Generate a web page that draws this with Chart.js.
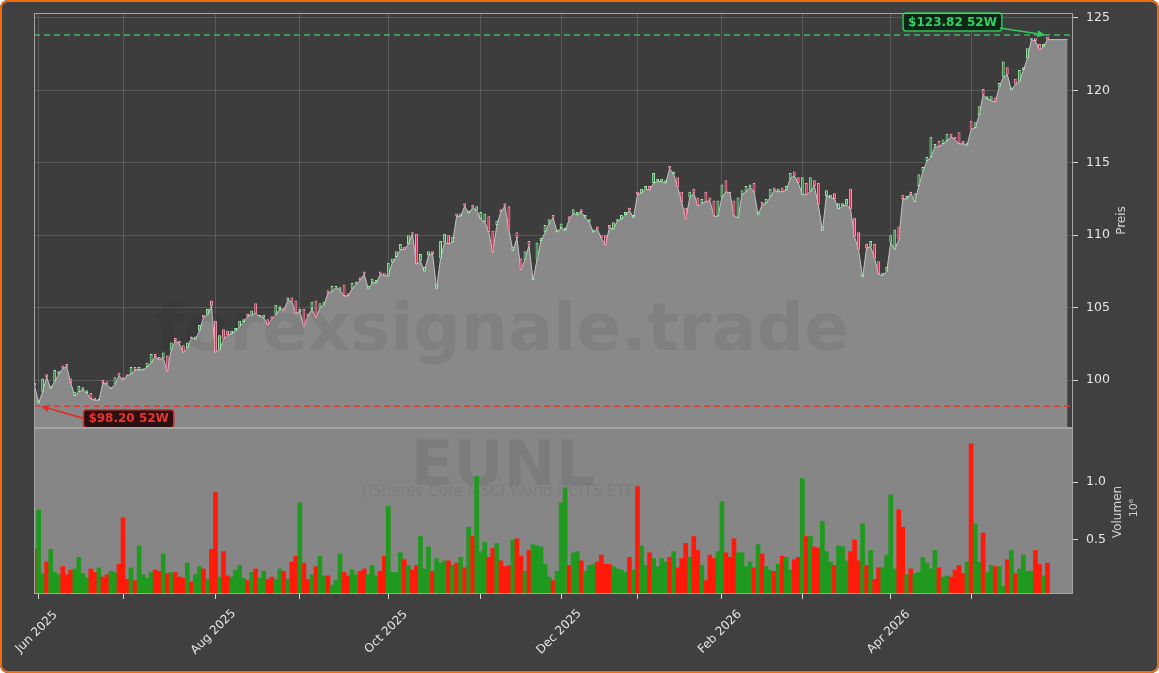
<!DOCTYPE html>
<html>
<head>
<meta charset="utf-8">
<script src="https://cdn.jsdelivr.net/npm/chart.js@4.4.1/dist/chart.umd.min.js"></script>
<style>
  html, body { margin: 0; padding: 0; background: #ffffff; }
  #wrap { position: relative; width: 1159px; height: 673px; overflow: hidden; background: #404040; border-radius: 8px; }
  #c1 { position: absolute; left: 0; top: 0; }
  #c2 { position: absolute; left: 0; top: 428px; }
  #frame { position: absolute; left: 0; top: 0; width: 1159px; height: 673px; box-sizing: border-box;
           border: 2px solid #f26a10; border-radius: 8px; pointer-events: none; }
</style>
</head>
<body>
<div id="wrap">
  <canvas id="c1" width="1159" height="430"></canvas>
  <canvas id="c2" width="1159" height="245"></canvas>
  <div id="frame"></div>
</div>
<script>
// trading days from 30 May 2025 (index 0) to 29 May 2026 (index 252)
const closes = [
  99.6, 98.6, 100.1, 100.2, 99.6, 100.7, 100.6, 100.8, 100.9, 99.8,
  99.2, 99.6, 99.5, 99.3, 98.7, 98.6, 98.7, 99.8, 99.7, 99.5,
  100.2, 100.3, 100.0, 100.3, 100.9, 100.7, 100.9, 100.8, 101.2, 101.8,
  101.6, 101.4, 101.9, 100.6, 102.6, 102.7, 102.5, 101.9, 102.6, 102.9,
  103.0, 103.8, 104.3, 104.9, 105.1, 101.9, 103.1, 102.8, 103.1, 103.4,
  103.6, 104.1, 104.2, 104.4, 104.8, 104.6, 104.5, 104.5, 103.8, 104.2,
  105.2, 105.1, 104.8, 105.7, 105.4, 104.6, 104.9, 103.7, 104.4, 105.4,
  104.3, 105.3, 105.4, 106.0, 106.5, 106.5, 106.4, 105.8, 105.8, 106.7,
  106.8, 106.9, 107.3, 106.5, 107.0, 106.9, 107.3, 107.2, 108.1, 108.4,
  108.9, 109.4, 109.0, 110.0, 110.1, 108.0, 108.7, 107.8, 108.9, 108.7,
  106.6, 109.6, 110.1, 109.4, 109.9, 111.3, 111.5, 112.0, 111.7, 111.9,
  112.0, 111.6, 111.5, 110.2, 108.8, 111.0, 111.6, 112.0, 110.4, 109.2,
  109.8, 107.6, 108.9, 109.3, 107.1, 109.5, 109.8, 110.7, 111.1, 111.2,
  110.4, 110.8, 110.5, 111.1, 111.8, 111.6, 111.6, 111.4, 111.1, 110.4,
  110.4, 109.8, 109.3, 110.5, 110.9, 111.1, 111.4, 111.6, 111.7, 111.4,
  112.8, 113.2, 113.4, 113.1, 114.3, 113.9, 113.9, 113.8, 114.6, 114.4,
  113.3, 112.3, 111.1, 113.0, 112.9, 112.0, 112.5, 112.3, 112.4, 111.3,
  112.4, 113.5, 113.0, 112.9, 111.3, 112.6, 113.1, 113.4, 113.5, 113.0,
  111.6, 112.1, 112.5, 113.2, 113.1, 113.2, 113.0, 113.4, 114.3, 114.1,
  113.6, 114.0, 112.8, 114.0, 113.4, 112.1, 110.6, 113.1, 112.8, 112.5,
  112.2, 112.2, 112.5, 111.8, 109.9, 109.0, 107.3, 109.1, 109.6, 108.4,
  107.3, 107.4, 107.8, 110.0, 110.4, 109.7, 112.5, 112.7, 112.9, 112.9,
  114.2, 114.7, 115.4, 116.8, 116.3, 116.1, 116.6, 117.0, 116.8, 116.6,
  116.3, 116.3, 116.4, 117.3, 117.8, 118.9, 119.7, 119.6, 119.6, 119.2,
  120.5, 122.0, 121.1, 120.2, 120.4, 121.4, 121.6, 122.9, 123.6, 123.4,
  122.8, 123.2, 123.5
];
const opens = [
  99.8, 98.4, 99.2, 100.4, 99.4, 99.9, 100.4, 101.0, 101.1, 100.1,
  98.9, 99.2, 99.3, 99.1, 99.1, 98.8, 98.6, 100.0, 99.9, 99.4,
  99.7, 100.5, 100.2, 100.4, 100.4, 100.9, 100.7, 100.7, 100.9, 101.2,
  101.8, 101.6, 101.5, 101.7, 102.1, 102.9, 102.7, 102.4, 102.2, 103.0,
  102.8, 103.4, 104.5, 104.5, 105.5, 104.1, 102.1, 103.5, 103.4, 103.2,
  103.4, 103.7, 104.0, 104.6, 104.5, 105.3, 104.4, 104.3, 104.2, 104.4,
  104.5, 104.9, 105.0, 105.5, 105.7, 105.5, 104.7, 104.9, 104.6, 104.9,
  105.5, 105.0, 105.2, 106.2, 106.1, 106.4, 106.2, 106.6, 106.0, 106.3,
  106.6, 107.1, 107.5, 106.3, 106.7, 106.7, 107.5, 107.4, 107.2, 108.1,
  108.5, 109.0, 109.2, 109.4, 110.2, 110.1, 108.2, 107.5, 108.6, 108.9,
  106.3, 108.4, 109.5, 110.0, 109.5, 111.5, 111.3, 112.2, 111.5, 112.1,
  111.7, 111.1, 110.9, 111.3, 110.3, 110.7, 111.8, 112.2, 112.0, 108.9,
  110.2, 108.4, 108.3, 109.6, 106.9, 108.3, 109.6, 110.2, 110.8, 111.4,
  110.2, 110.5, 110.3, 111.3, 111.5, 111.4, 111.8, 111.2, 110.9, 110.2,
  110.6, 110.0, 110.0, 110.7, 110.4, 111.0, 111.1, 111.4, 111.9, 111.2,
  113.0, 112.9, 113.2, 113.4, 113.6, 113.7, 113.7, 113.6, 114.8, 114.2,
  114.0, 113.0, 111.9, 112.6, 113.2, 112.6, 112.2, 113.0, 112.6, 112.4,
  111.3, 112.6, 113.8, 113.0, 112.4, 111.2, 112.8, 113.0, 113.3, 113.6,
  111.4, 112.3, 112.2, 112.6, 113.3, 113.0, 113.3, 113.1, 113.9, 114.4,
  114.0, 112.8, 113.6, 113.0, 113.8, 113.6, 110.3, 112.7, 112.6, 112.9,
  111.8, 112.0, 112.1, 113.2, 111.2, 110.2, 107.1, 109.4, 109.2, 109.4,
  108.2, 107.2, 107.5, 109.5, 109.0, 110.6, 112.8, 112.5, 113.0, 112.3,
  113.4, 114.4, 115.1, 115.4, 116.1, 116.5, 116.3, 116.5, 117.0, 116.8,
  117.1, 116.5, 116.2, 117.9, 117.4, 118.3, 120.1, 119.4, 119.3, 119.5,
  120.2, 120.9, 121.6, 120.0, 120.8, 120.6, 121.4, 122.2, 123.5, 123.6,
  123.2, 123.0, 123.7
];
// volume in millions
const volumes = [
  0.42, 0.76, 0.21, 0.31, 0.42, 0.22, 0.20, 0.27, 0.20, 0.24,
  0.25, 0.35, 0.21, 0.17, 0.25, 0.22, 0.26, 0.18, 0.20, 0.23,
  0.22, 0.29, 0.69, 0.16, 0.26, 0.15, 0.45, 0.20, 0.17, 0.22,
  0.24, 0.23, 0.38, 0.21, 0.22, 0.22, 0.18, 0.17, 0.30, 0.14,
  0.20, 0.27, 0.25, 0.16, 0.42, 0.91, 0.18, 0.40, 0.19, 0.18,
  0.24, 0.28, 0.17, 0.15, 0.22, 0.25, 0.17, 0.23, 0.16, 0.18,
  0.16, 0.25, 0.23, 0.16, 0.31, 0.36, 0.82, 0.30, 0.16, 0.20,
  0.27, 0.36, 0.19, 0.19, 0.11, 0.15, 0.38, 0.22, 0.19, 0.24,
  0.20, 0.23, 0.25, 0.20, 0.28, 0.19, 0.23, 0.36, 0.79, 0.22,
  0.22, 0.39, 0.33, 0.28, 0.24, 0.28, 0.53, 0.25, 0.44, 0.23,
  0.34, 0.30, 0.32, 0.32, 0.28, 0.30, 0.35, 0.26, 0.61, 0.53,
  1.05, 0.40, 0.48, 0.35, 0.43, 0.47, 0.32, 0.27, 0.28, 0.50,
  0.51, 0.36, 0.23, 0.41, 0.46, 0.45, 0.44, 0.29, 0.18, 0.15,
  0.23, 0.82, 0.95, 0.28, 0.39, 0.40, 0.32, 0.23, 0.28, 0.29,
  0.31, 0.37, 0.29, 0.29, 0.27, 0.25, 0.24, 0.22, 0.35, 0.24,
  0.96, 0.45, 0.28, 0.39, 0.34, 0.27, 0.34, 0.31, 0.35, 0.40,
  0.26, 0.34, 0.47, 0.35, 0.53, 0.41, 0.28, 0.15, 0.37, 0.34,
  0.40, 0.83, 0.39, 0.35, 0.51, 0.39, 0.39, 0.27, 0.31, 0.26,
  0.46, 0.38, 0.27, 0.24, 0.23, 0.29, 0.36, 0.35, 0.24, 0.33,
  0.35, 1.03, 0.53, 0.53, 0.44, 0.43, 0.66, 0.40, 0.31, 0.28,
  0.45, 0.44, 0.32, 0.40, 0.50, 0.32, 0.64, 0.28, 0.41, 0.16,
  0.26, 0.26, 0.37, 0.89, 0.25, 0.76, 0.61, 0.20, 0.25, 0.21,
  0.22, 0.35, 0.30, 0.25, 0.41, 0.26, 0.18, 0.19, 0.18, 0.24,
  0.28, 0.21, 0.31, 1.33, 0.64, 0.31, 0.56, 0.22, 0.28, 0.27,
  0.27, 0.10, 0.33, 0.41, 0.21, 0.25, 0.37, 0.23, 0.23, 0.41,
  0.29, 0.19, 0.30
];
const priceTicks = [100, 105, 110, 115, 120, 125];
const volumeTicks = [0.5, 1.0];
const monthTicks = [1, 22, 45, 66, 88, 111, 131, 150, 171, 191, 213, 233];
const monthLabels = ['Jun 2025', '', 'Aug 2025', '', 'Oct 2025', '', 'Dec 2025', '', 'Feb 2026', '', 'Apr 2026', ''];
const high52 = 123.82, high52Index = 252;
const low52 = 98.20, low52Index = 1;
const areaEndIndex = 257;

const X_MIN = -0.15, X_MAX = 258.35;
const GREEN_BODY = '#3c8f4c', GREEN_EDGE = '#9ef0aa';
const RED_BODY = '#e0305a', RED_EDGE = '#ff9db5';

Chart.defaults.font.family = '"DejaVu Sans", sans-serif';
Chart.defaults.color = '#e6e6e6';

const isUp = closes.map((c, i) => c >= opens[i]);
const candleData = closes.map((c, i) => ({ x: i, y: [opens[i], c] }));
// shaded area follows the lower edge of each candle body
const areaData = closes.map((c, i) => ({ x: i, y: Math.min(c, opens[i]) }));
areaData.push({ x: areaEndIndex, y: areaData[areaData.length - 1].y });
const volumeData = volumes.map((v, i) => ({ x: i, y: v }));

function monthTickList(scale) {
  scale.ticks = monthTicks.map(v => ({ value: v }));
}

function drawFrame(chart) {
  const { ctx, chartArea: a } = chart;
  ctx.save();
  ctx.strokeStyle = '#a4a4a4';
  ctx.lineWidth = 1;
  ctx.strokeRect(Math.round(a.left) + 0.5, Math.round(a.top) + 0.5,
                 Math.round(a.right - a.left) - 1, Math.round(a.bottom - a.top) - 1);
  ctx.restore();
}

function fillPanel(chart, color) {
  const { ctx, chartArea: a } = chart;
  ctx.save();
  ctx.fillStyle = color;
  ctx.fillRect(a.left, a.top, a.right - a.left, a.bottom - a.top);
  ctx.restore();
}

function verticalText(ctx, text, x, y, font, color) {
  ctx.save();
  ctx.translate(x, y);
  ctx.rotate(-Math.PI / 2);
  ctx.font = font;
  ctx.fillStyle = color;
  ctx.textAlign = 'center';
  ctx.textBaseline = 'middle';
  ctx.fillText(text, 0, 0);
  ctx.restore();
}

function drawTag(ctx, text, cx, cy, fill, stroke, color) {
  ctx.save();
  ctx.font = 'bold 12px "DejaVu Sans"';
  const w = ctx.measureText(text).width + 10, h = 18;
  const x = cx - w / 2, y = cy - h / 2, r = 3;
  ctx.beginPath();
  ctx.moveTo(x + r, y);
  ctx.lineTo(x + w - r, y);
  ctx.quadraticCurveTo(x + w, y, x + w, y + r);
  ctx.lineTo(x + w, y + h - r);
  ctx.quadraticCurveTo(x + w, y + h, x + w - r, y + h);
  ctx.lineTo(x + r, y + h);
  ctx.quadraticCurveTo(x, y + h, x, y + h - r);
  ctx.lineTo(x, y + r);
  ctx.quadraticCurveTo(x, y, x + r, y);
  ctx.closePath();
  ctx.fillStyle = fill;
  ctx.fill();
  ctx.lineWidth = 1.5;
  ctx.strokeStyle = stroke;
  ctx.stroke();
  ctx.fillStyle = color;
  ctx.textAlign = 'center';
  ctx.textBaseline = 'middle';
  ctx.fillText(text, cx, cy + 0.5);
  ctx.restore();
  return w;
}

function drawArrow(ctx, x1, y1, x2, y2, color) {
  const ang = Math.atan2(y2 - y1, x2 - x1);
  const hl = 8, hw = 3.5;
  ctx.save();
  ctx.strokeStyle = color;
  ctx.fillStyle = color;
  ctx.lineWidth = 1.6;
  ctx.beginPath();
  ctx.moveTo(x1, y1);
  ctx.lineTo(x2 - hl * Math.cos(ang), y2 - hl * Math.sin(ang));
  ctx.stroke();
  ctx.beginPath();
  ctx.moveTo(x2, y2);
  ctx.lineTo(x2 - hl * Math.cos(ang) + hw * Math.sin(ang), y2 - hl * Math.sin(ang) - hw * Math.cos(ang));
  ctx.lineTo(x2 - hl * Math.cos(ang) - hw * Math.sin(ang), y2 - hl * Math.sin(ang) + hw * Math.cos(ang));
  ctx.closePath();
  ctx.fill();
  ctx.restore();
}

// keep the plot box exactly where the layout padding puts it
function fixYAxis(s) {
  s.width = 86;
  s.paddingTop = 0;
  s.paddingBottom = 0;
}

const pricePanel = {
  id: 'pricePanel',
  beforeDraw(chart) { fillPanel(chart, '#3d3d3d'); },
  afterDatasetDraw(chart, args) {
    if (args.index !== 1) return;
    const { ctx } = chart;
    ctx.save();
    ctx.font = 'bold 68px "DejaVu Sans"';
    const text = 'forexsignale.trade';
    const m = ctx.measureText(text).width;
    const size = 68 * 695 / m;
    ctx.font = 'bold ' + size.toFixed(1) + 'px "DejaVu Sans"';
    ctx.fillStyle = 'rgba(0,0,0,0.06)';
    ctx.textAlign = 'center';
    ctx.textBaseline = 'alphabetic';
    ctx.fillText(text, 502, 350);
    ctx.restore();
  },
  afterDatasetsDraw(chart) {
    const { ctx, chartArea: a, scales } = chart;
    const yH = scales.y.getPixelForValue(high52);
    const yL = scales.y.getPixelForValue(low52);
    ctx.save();
    ctx.setLineDash([6, 4]);
    ctx.lineWidth = 1.5;
    ctx.strokeStyle = '#3fb764';
    ctx.beginPath(); ctx.moveTo(a.left, yH); ctx.lineTo(a.right, yH); ctx.stroke();
    ctx.strokeStyle = '#d8403c';
    ctx.beginPath(); ctx.moveTo(a.left, yL); ctx.lineTo(a.right, yL); ctx.stroke();
    ctx.restore();

    const xH = scales.x.getPixelForValue(high52Index);
    const xL = scales.x.getPixelForValue(low52Index);
    const hcx = xH - 95, hcy = yH - 13;
    const hw = drawTag(ctx, '$' + high52.toFixed(2) + ' 52W', hcx, hcy, '#0d2616', '#2fc45a', '#33d162');
    drawArrow(ctx, hcx + hw / 2 - 2, hcy + 6, xH - 2, yH, '#33c95e');
    const lcx = xL + 90, lcy = yL + 12.5;
    const lw = drawTag(ctx, '$' + low52.toFixed(2) + ' 52W', lcx, lcy, '#2a1010', '#e0302e', '#ea3430');
    drawArrow(ctx, lcx - lw / 2 + 1, lcy, xL + 2, yL, '#e0302e');
  },
  afterDraw(chart) {
    drawFrame(chart);
    const a = chart.chartArea;
    verticalText(chart.ctx, 'Preis', a.right + 49, (a.top + a.bottom) / 2, '12px "DejaVu Sans"', '#d2d2d2');
  }
};

const volumePanel = {
  id: 'volumePanel',
  beforeDraw(chart) { fillPanel(chart, '#868686'); },
  beforeDatasetsDraw(chart) {
    const { ctx, chartArea: a } = chart;
    ctx.save();
    ctx.fillStyle = 'rgba(0,0,0,0.07)';
    ctx.textAlign = 'center';
    ctx.textBaseline = 'alphabetic';
    ctx.font = 'bold 62px "DejaVu Sans"';
    ctx.fillText('EUNL', 503, a.top + 57);
    ctx.font = '15px "DejaVu Sans"';
    ctx.fillText('(iShares Core MSCI World UCITS ETF)', 501, a.top + 68);
    ctx.restore();
  },
  afterDraw(chart) {
    drawFrame(chart);
    const { ctx, chartArea: a, scales } = chart;
    const mid = (a.top + a.bottom) / 2;
    verticalText(ctx, 'Volumen', a.right + 45, mid + 1, '12px "DejaVu Sans"', '#d2d2d2');
    verticalText(ctx, '10\u2076', a.right + 61, mid - 3, '11px "DejaVu Sans"', '#d2d2d2');
    ctx.save();
    ctx.font = '12px "DejaVu Sans"';
    ctx.fillStyle = '#e6e6e6';
    ctx.textAlign = 'center';
    ctx.textBaseline = 'middle';
    monthTicks.forEach((v, i) => {
      if (!monthLabels[i]) return;
      const x = scales.x.getPixelForValue(v);
      ctx.save();
      ctx.translate(x - 2, a.bottom + 38);
      ctx.rotate(-Math.PI / 4);
      ctx.fillText(monthLabels[i], 0, 0);
      ctx.restore();
    });
    ctx.restore();
  }
};

new Chart(document.getElementById('c1'), {
  type: 'bar',
  data: {
    datasets: [
      {
        label: 'Kerzen',
        data: candleData,
        backgroundColor: isUp.map(u => u ? GREEN_BODY : RED_BODY),
        borderColor: isUp.map(u => u ? GREEN_EDGE : RED_EDGE),
        borderWidth: 1,
        borderSkipped: false,
        barPercentage: 0.72,
        categoryPercentage: 1,
        order: 1
      },
      {
        type: 'line',
        label: 'Fläche',
        data: areaData,
        fill: 'start',
        backgroundColor: '#898989',
        borderColor: '#c4c4c4',
        borderWidth: 1,
        pointRadius: 0,
        tension: 0,
        order: 2
      }
    ]
  },
  options: {
    responsive: false,
    animation: false,
    events: [],
    layout: { padding: { left: 34, top: 13, right: 0, bottom: 2 } },
    plugins: { legend: { display: false }, tooltip: { enabled: false } },
    scales: {
      x: {
        type: 'linear',
        min: X_MIN,
        max: X_MAX,
        offset: false,
        afterBuildTicks: monthTickList,
        ticks: { display: false },
        grid: { color: 'rgba(255,255,255,0.14)', drawTicks: false, offset: false },
        border: { display: false },
        afterFit: s => { s.height = 0; s.paddingLeft = 0; s.paddingRight = 0; }
      },
      y: {
        position: 'right',
        min: 96.69,
        max: 125.34,
        afterBuildTicks: s => { s.ticks = priceTicks.map(v => ({ value: v })); },
        ticks: { color: '#e6e6e6', font: { size: 12.5 }, padding: 8 },
        grid: { color: 'rgba(255,255,255,0.14)', tickColor: '#d6d6d6', tickLength: 5 },
        border: { display: false },
        afterFit: fixYAxis
      }
    }
  },
  plugins: [pricePanel]
});

new Chart(document.getElementById('c2'), {
  type: 'bar',
  data: {
    datasets: [{
      label: 'Volumen',
      data: volumeData,
      backgroundColor: isUp.map(u => u ? '#1f9a1f' : '#ff1a0a'),
      borderWidth: 0,
      barPercentage: 1,
      categoryPercentage: 1
    }]
  },
  options: {
    responsive: false,
    animation: false,
    events: [],
    layout: { padding: { left: 34, top: 0, right: 0, bottom: 0 } },
    plugins: { legend: { display: false }, tooltip: { enabled: false } },
    scales: {
      x: {
        type: 'linear',
        min: X_MIN,
        max: X_MAX,
        offset: false,
        afterBuildTicks: monthTickList,
        ticks: { display: false },
        grid: { drawOnChartArea: false, offset: false, color: '#d6d6d6', tickLength: 5 },
        border: { display: false },
        afterFit: s => { s.height = 79; s.paddingLeft = 0; s.paddingRight = 0; }
      },
      y: {
        position: 'right',
        min: 0.034,
        max: 1.466,
        afterBuildTicks: s => { s.ticks = volumeTicks.map(v => ({ value: v })); },
        ticks: { color: '#e6e6e6', font: { size: 12.5 }, padding: 8, callback: v => v.toFixed(1) },
        grid: { drawOnChartArea: false, color: '#d6d6d6', tickLength: 5 },
        border: { display: false },
        afterFit: fixYAxis
      }
    }
  },
  plugins: [volumePanel]
});
</script>
</body>
</html>
